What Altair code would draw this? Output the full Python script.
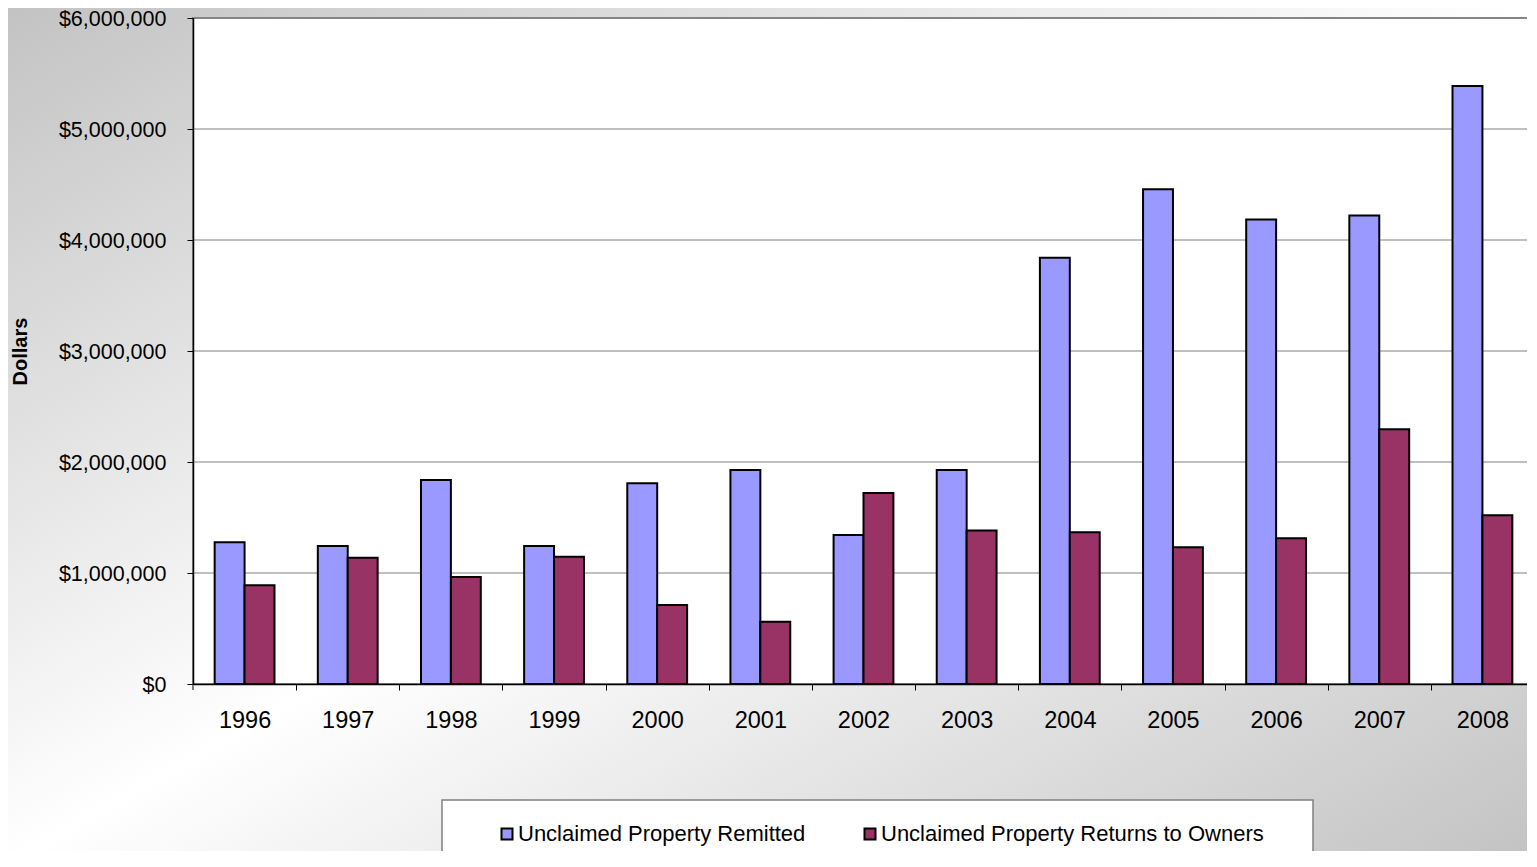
import altair as alt
import pandas as pd

years = ["1996", "1997", "1998", "1999", "2000", "2001", "2002",
         "2003", "2004", "2005", "2006", "2007", "2008"]
remitted = [1277000, 1244000, 1837000, 1244000, 1808000, 1928000, 1343000,
            1928000, 3840000, 4458000, 4184000, 4220000, 5388000]
returns = [889000, 1138000, 964000, 1147000, 711000, 560000, 1720000,
           1382000, 1367000, 1231000, 1313000, 2295000, 1520000]
series_names = ["Unclaimed Property Remitted", "Unclaimed Property Returns to Owners"]
series_colors = ["#9999FF", "#993366"]
y_ticks = [0, 1000000, 2000000, 3000000, 4000000, 5000000, 6000000]

W, H = 1341, 666
STEP = W / len(years)
FONT = "Liberation Sans"

rows = []
for yr, a, b in zip(years, remitted, returns):
    rows.append({"Year": yr, "Series": series_names[0], "Value": a})
    rows.append({"Year": yr, "Series": series_names[1], "Value": b})
df = pd.DataFrame(rows)
one = pd.DataFrame({"k": [0]})

gradient = {
    "gradient": "linear", "x1": 0, "y1": 0, "x2": 1, "y2": 1,
    "stops": [
        {"offset": 0, "color": "#c2c2c2"},
        {"offset": 0.5, "color": "#ffffff"},
        {"offset": 1, "color": "#c2c2c2"},
    ],
}

bg = alt.Chart(one).mark_rect(fill=gradient).encode(
    x=alt.value(-193), x2=alt.value(1344), y=alt.value(-18), y2=alt.value(849)
)

plot_rect = alt.Chart(one).mark_rect(fill="white", stroke="#8a8a8a", strokeWidth=2).encode(
    x=alt.value(0), x2=alt.value(W), y=alt.value(0), y2=alt.value(H)
)

first_tick = alt.Chart(one).mark_rule(color="black", strokeWidth=1).encode(
    x=alt.value(0), y=alt.value(H), y2=alt.value(H + 6)
)

yscale = alt.Scale(domain=[0, 6000000], nice=False, zero=True)
yaxis = alt.Axis(
    values=y_ticks, format="$,.0f", labelFontSize=21.5, labelFont=FONT,
    labelColor="black", tickColor="black", tickSize=6, domainColor="black",
    domainWidth=1.5, grid=False, labelPadding=21, labelOffset=1.5,
    title="Dollars", titleFontSize=20, titleFont=FONT, titleFontWeight="bold",
    titleColor="black", titleX=-173, titleY=333, titleAngle=270,
    titleAlign="center", titleBaseline="middle", zindex=1,
)

grid = alt.Chart(pd.DataFrame({"Value": y_ticks[1:]})).mark_rule(
    color="#808080", strokeWidth=1
).encode(y=alt.Y("Value:Q", scale=yscale, axis=yaxis, title="Dollars"))

bars = alt.Chart(df).mark_bar(stroke="black", strokeWidth=2).encode(
    x=alt.X(
        "Year:N",
        sort=years,
        scale=alt.Scale(paddingInner=0.42, paddingOuter=0.21),
        axis=alt.Axis(
            title=None, labelAngle=0, labelFontSize=23.5, labelFont=FONT,
            labelColor="black", tickOffset=STEP / 2, labelOffset=-STEP / 2,
            tickSize=6, tickColor="black",
            domainColor="black", domainWidth=1.5, labelPadding=18, grid=False,
            zindex=1,
        ),
    ),
    xOffset=alt.XOffset("Series:N", scale=alt.Scale(domain=series_names)),
    y=alt.Y("Value:Q", scale=yscale, axis=yaxis, title="Dollars"),
    color=alt.Color(
        "Series:N",
        scale=alt.Scale(domain=series_names, range=series_colors),
        legend=alt.Legend(
            title=None, orient="none", direction="horizontal",
            legendX=303, legendY=805, symbolType="square", symbolSize=121,
            symbolStrokeColor="black", symbolStrokeWidth=2, labelFontSize=22,
            labelFont=FONT, labelColor="black", labelOffset=0, columnPadding=53,
            labelLimit=600, padding=0, zindex=1,
        ),
    ),
)

legend_box = alt.Chart(one).mark_rect(fill="white", stroke="#808080", strokeWidth=1.5).encode(
    x=alt.value(249), x2=alt.value(1120), y=alt.value(782), y2=alt.value(900)
)

chart = alt.layer(bg, plot_rect, grid, bars, first_tick, legend_box).properties(
    width=W,
    height=H,
    autosize=alt.AutoSizeParams(type="none"),
    padding={"left": 185, "top": 10, "right": -7, "bottom": 167},
).configure_view(stroke=None)

chart.save("out.html", embed_options={"renderer": "svg", "actions": False})
